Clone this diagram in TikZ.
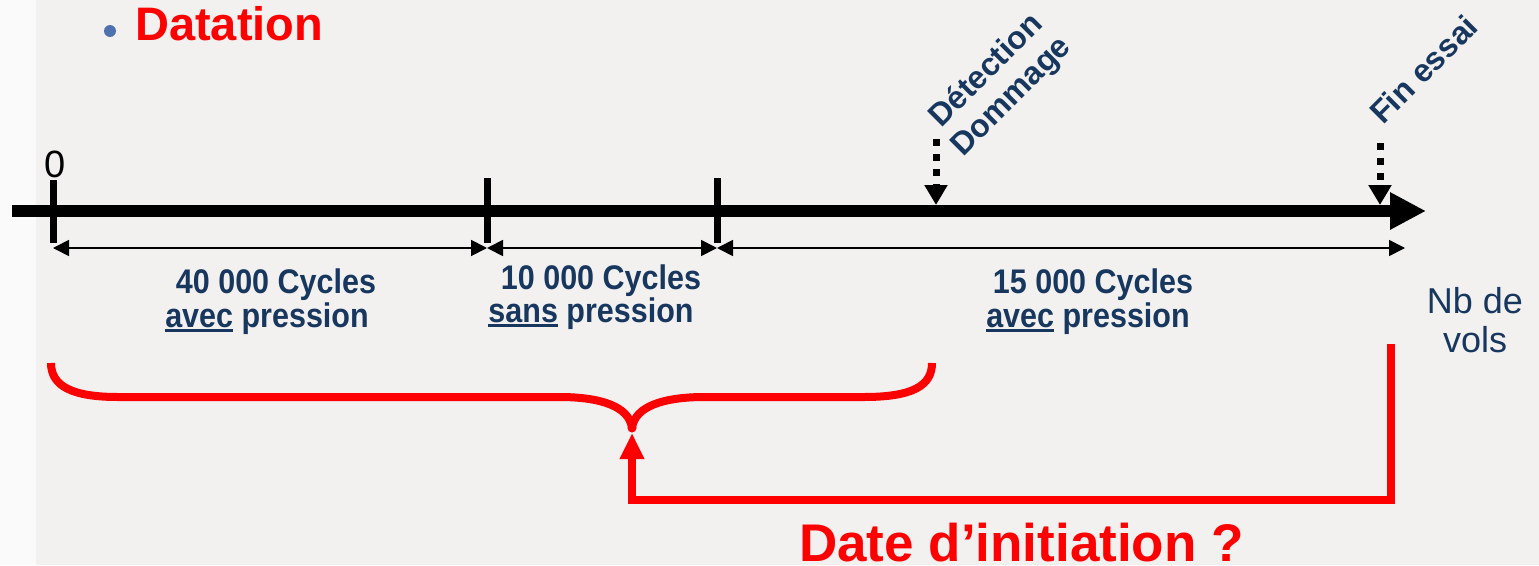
\documentclass[tikz,border=0pt]{standalone}
\usepackage{fontspec}
\setmainfont{Liberation Sans}
\usetikzlibrary{arrows.meta}
\definecolor{bgwhite}{HTML}{FAFAFA}
\definecolor{panel}{HTML}{F2F1F0}
\definecolor{navy}{HTML}{17375E}
\definecolor{pptred}{HTML}{FF0000}
\definecolor{bulletblue}{HTML}{4F71B0}
\newsavebox{\ulwbox}
\newcommand\ulword[1]{\sbox{\ulwbox}{#1}\rlap{\rule[-4.5pt]{\wd\ulwbox}{2.8pt}}\usebox{\ulwbox}}
\newcommand\tallbox[1]{\scalebox{1}[1.12]{#1}}
\begin{document}
\begin{tikzpicture}[x=1pt,y=-1pt,
  lbl/.style={inner sep=0pt, anchor=base, text=navy, font=\fontsize{30.5}{36}\selectfont\bfseries},
  axisline/.style={line width=12pt, -{Triangle[length=36pt,width=35pt]}},
  tickmark/.style={line width=7pt},
  dimline/.style={line width=1.8pt, {Triangle[length=16pt,width=16pt]}-{Triangle[length=16pt,width=16pt]}},
  dotarrow/.style={line width=7pt, dash pattern=on 7pt off 8pt, -{Triangle[length=20pt,width=22pt]}},
  redline/.style={draw=pptred, line width=8pt},
  rotlbl/.style={inner sep=0pt, anchor=base west, rotate=45, text=navy, font=\fontsize{32}{36}\selectfont\bfseries}]

\useasboundingbox (0,0) rectangle (1539,565);
\fill[bgwhite] (0,0) rectangle (1539,565);
\fill[panel] (36,0) rectangle (1539,565);

% title
\fill[bulletblue] (110,31) circle (6pt);
\node[inner sep=0pt, anchor=base west, text=pptred, font=\fontsize{47}{50}\selectfont\bfseries] (title) at (135,40) {Datation};

% coordinates
\coordinate (axL) at (12,211);
\coordinate (axR) at (1426,211);
\coordinate (t0a) at (53,180);  \coordinate (t0b) at (53,243);
\coordinate (t1a) at (487,178); \coordinate (t1b) at (487,243);
\coordinate (t2a) at (717,178); \coordinate (t2b) at (717,243);
\coordinate (d0) at (53,248);
\coordinate (d1) at (487,248);
\coordinate (d2) at (717,248);
\coordinate (d3) at (1405,248);
\coordinate (detTop) at (936,139); \coordinate (detTip) at (936,205);
\coordinate (finTop) at (1380,143); \coordinate (finTip) at (1380,205);

% axis
\draw[axisline] (axL) -- (axR);
\draw[tickmark] (t0a) -- (t0b);
\draw[tickmark] (t1a) -- (t1b);
\draw[tickmark] (t2a) -- (t2b);
\node[inner sep=0pt, anchor=base, font=\fontsize{38}{40}\selectfont] (zero) at (55,177) {0};

% dimension lines
\draw[dimline] (d0) -- (d1);
\draw[dimline] (d1) -- (d2);
\draw[dimline] (d2) -- (d3);

% dotted arrows
\draw[dotarrow] (detTop) -- (detTip);
\draw[dotarrow] (finTop) -- (finTip);
\node[rotlbl] (det1) at (941,129) {Détection};
\node[rotlbl] (det2) at (963,158) {Dommage};
\node[rotlbl] (fin) at (1383,126) {Fin essai};

% labels
\node[lbl] (c1a) at (276,293) {\tallbox{40 000 Cycles}};
\node[lbl] (c1b) at (267,327) {\tallbox{\ulword{avec} pression}};
\node[lbl] (c2a) at (601,289) {\tallbox{10 000 Cycles}};
\node[lbl] (c2b) at (591,322) {\tallbox{\ulword{sans} pression}};
\node[lbl] (c3a) at (1093,293) {\tallbox{15 000 Cycles}};
\node[lbl] (c3b) at (1088,327) {\tallbox{\ulword{avec} pression}};
\node[inner sep=0pt, anchor=base, text=navy, font=\fontsize{36}{40}\selectfont] (nb1) at (1475,313) {Nb de};
\node[inner sep=0pt, anchor=base, text=navy, font=\fontsize{36}{40}\selectfont] (nb2) at (1475,352) {vols};

% red brace
\coordinate (cusp) at (632,428);
\draw[redline] (51,363) .. controls (51,386) and (72,397) .. (118,397) -- (559,397) .. controls (600,397) and (629,406) .. (cusp);
\draw[redline] (932,363) .. controls (932,386) and (912,397) .. (864,397) -- (705,397) .. controls (664,397) and (635,406) .. (cusp);
\fill[pptred] (cusp) circle (4.5pt);

% red return arrow
\coordinate (rTop) at (1391,344);
\coordinate (rCorner) at (1391,499.5);
\coordinate (lCorner) at (632,499.5);
\coordinate (aTip) at (632,433);
\draw[redline, line join=miter, -{Triangle[length=26pt,width=23pt]}] (rTop) -- (rCorner) -- (lCorner) -- (aTip);

\node[inner sep=0pt, anchor=base west, text=pptred, font=\fontsize{53}{56}\selectfont\bfseries] (question) at (799,561) {Date d’initiation ?};
\end{tikzpicture}
\end{document}
